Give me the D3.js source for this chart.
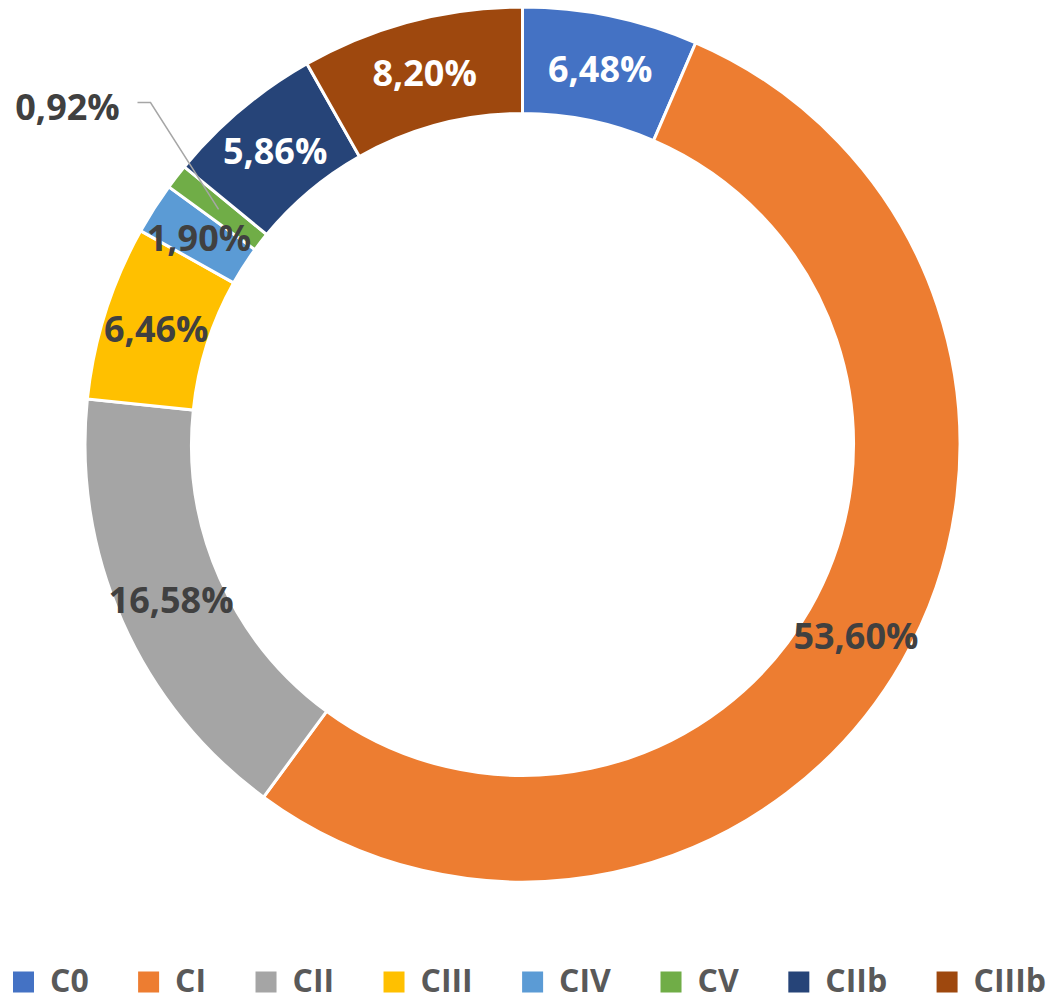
<html lang="en">
<head>
<meta charset="utf-8">
<style type="text/css">
    body { margin: 0; background: #fff; }
    .lbl { font-family: "Open Sans", "Noto Sans", sans-serif; font-weight: bold; font-size: 36px; }
    .leg { font-family: "Open Sans", "Noto Sans", sans-serif; font-weight: bold; font-size: 32px; fill: #595959; }
</style>
</head>
<body>
<svg width="1051" height="1001"></svg>

<script src="https://d3js.org/d3.v7.min.js"></script>
<script type="text/javascript">
    var categories = ["C0", "CI", "CII", "CIII", "CIV", "CV", "CIIb", "CIIIb"];
    var values = [6.48, 53.60, 16.58, 6.46, 1.90, 0.92, 5.86, 8.20];
    var colors = ["#4472C4", "#ED7D31", "#A5A5A5", "#FFC000", "#5B9BD5", "#70AD47", "#264478", "#9E480E"];
    var darkSlices = ["C0", "CIIb", "CIIIb"];   // these get white labels

    var svg = d3.select("svg"),
        cx = 522.5,
        cy = 444.5,
        outerR = 437.5,
        innerR = 331;

    var fmt = d3.formatLocale({decimal: ",", thousands: ".", grouping: [3], currency: ["", ""]}).format(".2f");

    var data = categories.map(function (c, i) { return {cat: c, value: values[i], color: colors[i]}; });

    var pie = d3.pie().sort(null).value(function (d) { return d.value; });
    var arc = d3.arc().innerRadius(innerR).outerRadius(outerR);
    var mid = d3.arc().innerRadius((innerR + outerR) / 2).outerRadius((innerR + outerR) / 2);

    var arcs = pie(data);

    var g = svg.append("g").attr("transform", "translate(" + cx + "," + cy + ")");

    g.selectAll(".slice")
        .data(arcs)
        .enter()
        .append("path")
        .attr("class", "slice")
        .attr("d", arc)
        .attr("fill", function (d) { return d.data.color; })
        .attr("stroke", "#fff")
        .attr("stroke-width", 3);

    // the tiny CV slice gets an outside label with a leader line
    var outside = "CV";
    var outPos = [-455, -338];   // label centre relative to donut centre

    g.selectAll(".lbl")
        .data(arcs)
        .enter()
        .append("text")
        .attr("class", "lbl")
        .attr("text-anchor", "middle")
        .attr("dominant-baseline", "central")
        .attr("transform", function (d) {
            var p = d.data.cat === outside ? outPos : mid.centroid(d);
            return "translate(" + p[0] + "," + p[1] + ")";
        })
        .attr("fill", function (d) { return darkSlices.indexOf(d.data.cat) >= 0 ? "#fff" : "#404040"; })
        .text(function (d) { return fmt(d.data.value) + "%"; });

    arcs.filter(function (d) { return d.data.cat === outside; }).forEach(function (d) {
        var c = mid.centroid(d);
        var x0 = outPos[0] + 70, y0 = outPos[1] - 4;
        g.append("polyline")
            .attr("points", [[x0, y0], [x0 + 13, y0], c].map(function (p) { return p.join(","); }).join(" "))
            .attr("fill", "none")
            .attr("stroke", "#A6A6A6")
            .attr("stroke-width", 1.5);
    });

    // legend
    var sq = 21, textGap = 16, legY = 982;
    var legend = svg.append("g");
    var items = legend.selectAll(".item")
        .data(data)
        .enter()
        .append("g")
        .attr("class", "item");
    items.append("rect")
        .attr("width", sq).attr("height", sq)
        .attr("y", legY - sq / 2)
        .attr("fill", function (d) { return d.color; });
    items.append("text")
        .attr("class", "leg")
        .attr("x", sq + textGap)
        .attr("y", 992)
        .text(function (d) { return d.cat; });

    var widths = [];
    items.each(function () { widths.push(this.getBBox().width); });
    var totalItems = d3.sum(widths);
    var left = 13, right = 1046;
    var gap = (right - left - totalItems) / (data.length - 1);
    var xpos = left;
    items.attr("transform", function (d, i) {
        var t = "translate(" + xpos + ",0)";
        xpos += widths[i] + gap;
        return t;
    });
</script>
</body>
</html>
